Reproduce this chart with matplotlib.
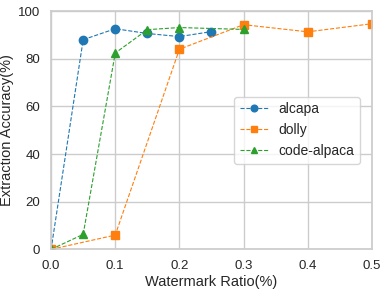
import matplotlib
matplotlib.use("Agg")
import matplotlib.pyplot as plt
import seaborn as sns

sns.set_theme(style="whitegrid")
plt.rcParams["font.family"] = ["Liberation Sans", "DejaVu Sans"]

# watermark ratio vs extraction accuracy
alcapa_x = [0.0, 0.05, 0.1, 0.15, 0.2, 0.25]
alcapa_y = [0.0, 88.0, 92.6, 90.6, 89.3, 91.4]
dolly_x = [0.0, 0.1, 0.2, 0.3, 0.4, 0.5]
dolly_y = [0.0, 6.0, 84.0, 94.3, 91.3, 94.7]
code_x = [0.0, 0.05, 0.1, 0.15, 0.2, 0.3]
code_y = [0.0, 6.3, 82.4, 92.2, 93.1, 92.3]

fig, ax = plt.subplots(figsize=(3.87, 2.92), dpi=100)
ax.plot(alcapa_x, alcapa_y, "o--", color="#1f77b4", lw=0.8, ms=6, label="alcapa")
ax.plot(dolly_x, dolly_y, "s--", color="#ff7f0e", lw=0.8, ms=6, label="dolly")
ax.plot(code_x, code_y, "^--", color="#2ca02c", lw=0.8, ms=6, label="code-alpaca")

ax.set_xlim(0, 0.5)
ax.set_ylim(0, 100)
ax.set_xlabel("Watermark Ratio(%)", fontsize=10.5, labelpad=2)
ax.set_ylabel("Extraction Accuracy(%)", fontsize=10.5, labelpad=3)
ax.tick_params(labelsize=9.5, pad=2)
ax.legend(loc="center right", fontsize=10, markerscale=0.8,
          bbox_to_anchor=(0.985, 0.5))

fig.subplots_adjust(left=0.132, right=0.961, top=0.962, bottom=0.146)
fig.savefig("out.png")
